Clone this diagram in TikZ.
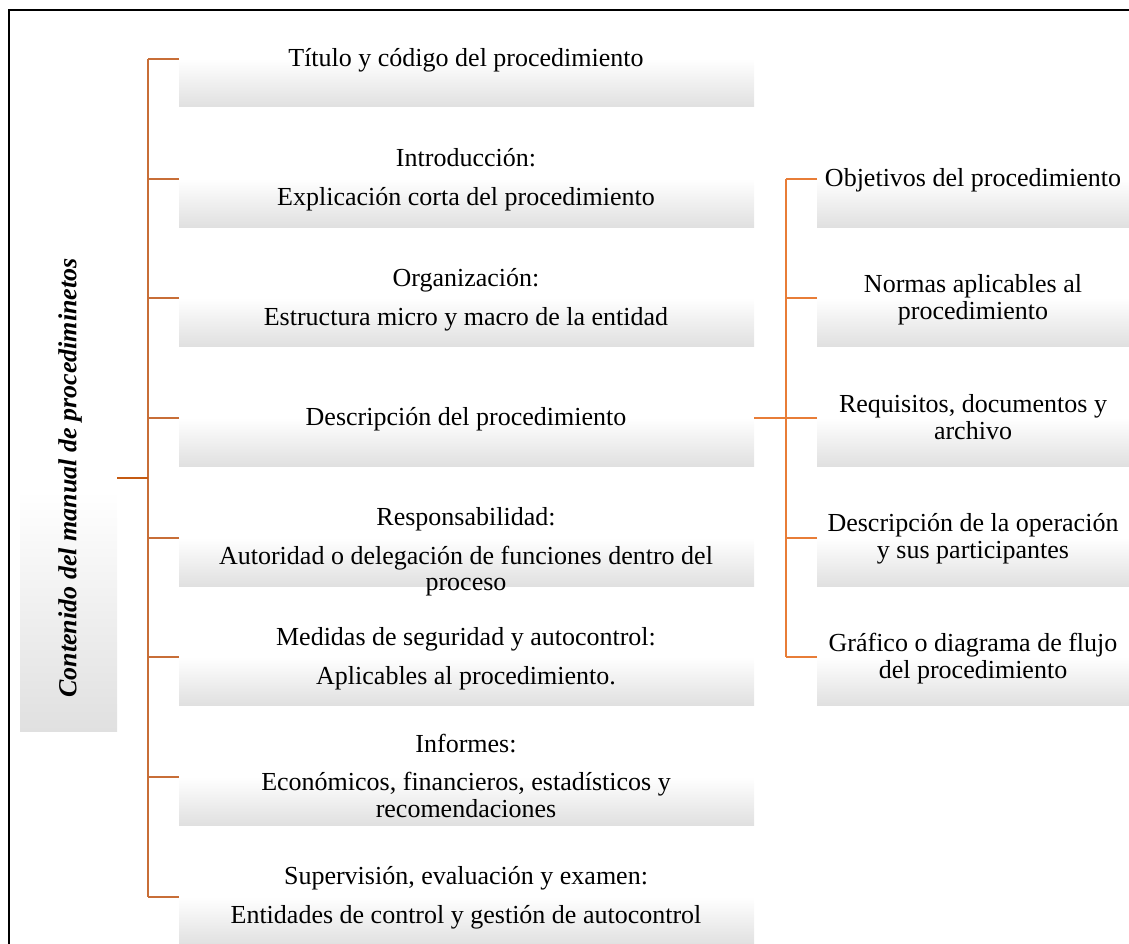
\documentclass[tikz,border=0pt]{standalone}
\usepackage{fontspec}
\setmainfont{Liberation Serif}
\begin{document}
\begin{tikzpicture}[x=1pt,y=-1pt,
  boxfill/.style={shade, top color=white, bottom color={rgb,255:red,224;green,224;blue,224}, draw=none, inner sep=0pt, outer sep=0pt, anchor=north west},
  lbox/.style={boxfill, minimum width=575pt, minimum height=48pt},
  rbox/.style={boxfill, minimum width=313pt, minimum height=48pt},
  txt/.style={anchor=base, inner sep=0pt, font=\fontsize{26}{27}\selectfont},
  leftline/.style={draw={rgb,255:red,200;green,110;blue,55}, line width=1.5pt},
  mainline/.style={draw={rgb,255:red,197;green,90;blue,17}, line width=1.8pt},
  rightline/.style={draw={rgb,255:red,232;green,125;blue,55}, line width=1.5pt}]
\useasboundingbox (0,0) rectangle (1129,944);
% frame
\draw[line width=2pt] (1129,10.5) -- (8.5,10.5) -- (8.5,944);
% main box
\node[boxfill, minimum width=97pt, minimum height=481pt, middle color=white] (main) at (20,250) {};
\node[rotate=90, inner sep=0pt, font=\fontsize{26}{27}\selectfont\bfseries\itshape] (maintxt) at (70,478) {Contenido del manual de procediminetos};
% left boxes
\foreach \n/\y in {L1/59,L2/179,L3/298,L4/418,L5/538,L6/657,L7/777,L8/897}{
  \node[lbox] (\n) at (179,\y) {};
}
% right boxes
\foreach \n/\y in {R1/179,R2/298,R3/418,R4/538,R5/657}{
  \node[rbox] (\n) at (817,\y) {};
}
% left texts
\node[txt] (t1) at (466,67) {Título y código del procedimiento};
\node[txt] (t2a) at (466,167) {Introducción:};
\node[txt] (t2b) at (466,205) {Explicación corta del procedimiento};
\node[txt] (t3a) at (466,286) {Organización:};
\node[txt] (t3b) at (466,325) {Estructura micro y macro de la entidad};
\node[txt] (t4) at (466,425) {Descripción del procedimiento};
\node[txt] (t5a) at (466,525) {Responsabilidad:};
\node[txt] (t5b) at (466,564) {Autoridad o delegación de funciones dentro del};
\node[txt] (t5c) at (466,590) {proceso};
\node[txt] (t6a) at (466,645) {Medidas de seguridad y autocontrol:};
\node[txt] (t6b) at (466,684) {Aplicables al procedimiento.};
\node[txt] (t7a) at (466,752) {Informes:};
\node[txt] (t7b) at (466,790) {Económicos, financieros, estadísticos y};
\node[txt] (t7c) at (466,817) {recomendaciones};
\node[txt] (t8a) at (466,884) {Supervisión, evaluación y examen:};
\node[txt] (t8b) at (466,923) {Entidades de control y gestión de autocontrol};
% right texts
\node[txt] (r1) at (973,186) {Objetivos del procedimiento};
\node[txt] (r2a) at (973,292) {Normas aplicables al};
\node[txt] (r2b) at (973,319) {procedimiento};
\node[txt] (r3a) at (973,412) {Requisitos, documentos y};
\node[txt] (r3b) at (973,439) {archivo};
\node[txt] (r4a) at (973,531) {Descripción de la operación};
\node[txt] (r4b) at (973,558) {y sus participantes};
\node[txt] (r5a) at (973,651) {Gráfico o diagrama de flujo};
\node[txt] (r5b) at (973,678) {del procedimiento};
% connectors left
\coordinate (lvt) at (148,59);
\coordinate (lvb) at (148,897);
\draw[leftline] (lvt) -- (lvb);
\foreach \n in {L1,L2,L3,L4,L5,L6,L7,L8}{
  \draw[leftline] (\n.north west) -- (\n.north west -| lvt);
}
\draw[mainline] (main.north east |- 0,478) -- (148,478);
% connectors right
\coordinate (rvt) at (786,179);
\coordinate (rvb) at (786,657);
\draw[rightline] (rvt) -- (rvb);
\foreach \n in {R1,R2,R3,R4,R5}{
  \draw[rightline] (\n.north west) -- (\n.north west -| rvt);
}
\draw[rightline] (L4.north east) -- (L4.north east -| rvt);
\end{tikzpicture}
\end{document}
